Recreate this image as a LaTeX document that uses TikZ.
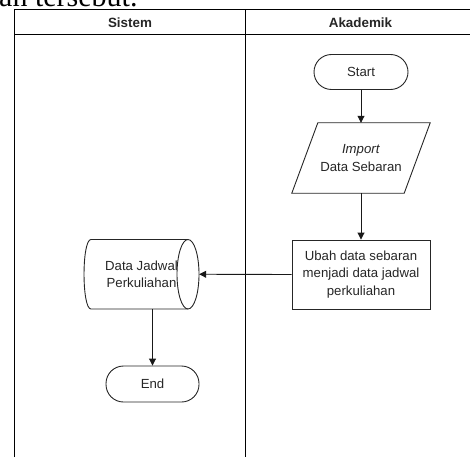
\documentclass[tikz,border=0pt]{standalone}
\usepackage{fontspec}
\setmainfont{Liberation Sans}
\newfontfamily\bodyserif{Liberation Serif}
\usetikzlibrary{arrows.meta,calc}
\begin{document}
\begin{tikzpicture}[x=1pt,y=-1pt,
  lane/.style={draw=black, line width=1.1pt},
  flow/.style={draw=black!85, line width=0.9pt},
  txt/.style={font=\fontsize{13.2}{17.5}\selectfont, text=black!85, align=center, inner sep=0pt},
  head/.style={font=\bfseries\fontsize{13.4}{15}\selectfont, text=black!85, inner sep=0pt},
  term/.style={txt, flow, draw, rounded corners=17.5pt},
  procbox/.style={txt, flow, draw},
  link/.style={draw=black!90, line width=0.9pt, -{Triangle[length=7pt,width=7pt]}}]
\useasboundingbox (0,0) rectangle (470,457);
\clip (0,0) rectangle (470,457);

% line of running text above the figure
\node[anchor=base west, inner sep=0pt, font=\bodyserif\fontsize{30}{30}\selectfont] (runtext) at (-1,7) {an tersebut.};

% swimlanes
\draw[lane] (14.5,457) -- (14.5,9.5) -- (480,9.5);
\draw[lane] (14.5,34.5) -- (480,34.5);
\draw[lane] (245.5,9.5) -- (245.5,457);
\node[head] (lanesys) at (130,22.5) {Sistem};
\node[head] (laneaka) at (360.5,22.5) {Akademik};

% Akademik lane
\node[term, minimum width=94pt, minimum height=35pt] (start) at (361,72) {Start};

\node[txt, minimum width=86pt, minimum height=70pt] (imp) at (361,158) {\textit{Import}\\Data Sebaran};
\draw[flow] (imp.north west) -- ($(imp.north east)+(26,0)$) -- (imp.south east) -- ($(imp.south west)+(-26,0)$) -- cycle;

\node[procbox, minimum width=138pt, minimum height=69pt] (ubah) at (361,274.5) {Ubah data sebaran\\menjadi data jadwal\\perkuliahan};

% Sistem lane: stored data
\node[txt, minimum width=115pt, minimum height=69.5pt] (jadwal) at (141.5,274.25) {Data Jadwal\\Perkuliahan};
\draw[flow] (188,239.5) -- (91,239.5) .. controls (81.7,239.5) and (81.7,309) .. (91,309) -- (188,309);
\draw[flow] (188,274.25) ellipse [x radius=11, y radius=34.75];

\node[term, minimum width=93pt, minimum height=36pt] (end) at (152.5,384) {End};

% connectors
\draw[link] (start.south) -- (imp.north);
\draw[link] (imp.south) -- (ubah.north);
\draw[link] (ubah.west) -- (jadwal.east);
\draw[link] (end.north |- jadwal.south) -- (end.north);
\end{tikzpicture}
\end{document}
